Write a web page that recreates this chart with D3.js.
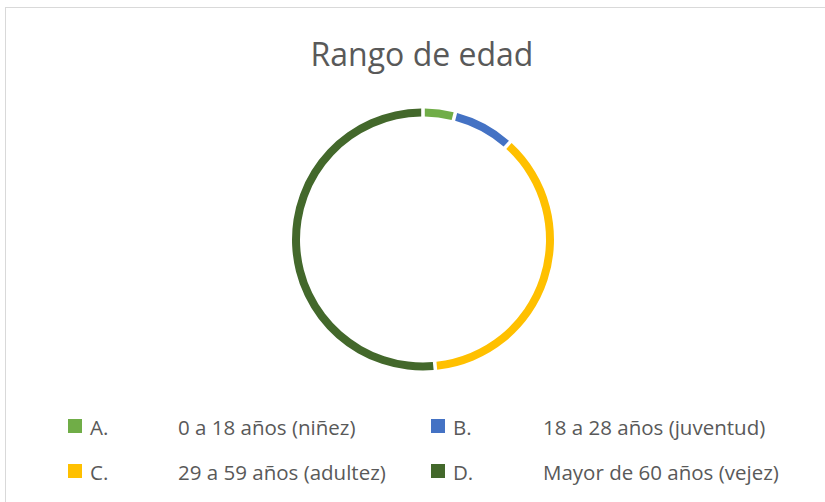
<!DOCTYPE html>
<html>
<head>
<meta charset="utf-8">
<script src="https://cdn.jsdelivr.net/npm/d3@7"></script>
<style>
  body { margin: 0; background: #fff; }
  text { font-family: "Open Sans", "Liberation Sans", sans-serif; }
</style>
</head>
<body>
<div id="canvas"></div>
<script>
// Rango de edad - thin donut ring with a 2x2 legend

const width = 825, height = 502;

const letters = ["A.", "B.", "C.", "D."];
const labels = ["0 a 18 años (niñez)", "18 a 28 años (juventud)", "29 a 59 años (adultez)", "Mayor de 60 años (vejez)"];
const values = [1, 2, 10, 14];
const colors = ["#70ad47", "#4472c4", "#ffc000", "#43682b"];

const svg = d3.select("#canvas")
  .append("svg")
  .attr("width", width)
  .attr("height", height);

// chart area border (only top and left show in the window)
svg.append("rect")
  .attr("x", 5.5).attr("y", 7.5)
  .attr("width", 830).attr("height", 520)
  .attr("fill", "#fff")
  .attr("stroke", "#d9d9d9")
  .attr("stroke-width", 1);

// title
svg.append("text")
  .attr("x", 422).attr("y", 66)
  .attr("text-anchor", "middle")
  .attr("font-size", 32)
  .attr("fill", "#595959")
  .text("Rango de edad");

// ring (white gaps via padAngle so the ring keeps its full thickness)
const cx = 423, cy = 239.5;
const pie = d3.pie().sort(null).padAngle(0.02).value(d => d)(values);
const arc = d3.arc().innerRadius(123).outerRadius(131);

svg.append("g")
  .attr("transform", `translate(${cx},${cy})`)
  .selectAll("path")
  .data(pie)
  .join("path")
  .attr("d", arc)
  .attr("fill", (d, i) => colors[i]);

// legend: two columns, two rows
const colX = [68, 431];
const rowY = [419, 464];
const legend = svg.append("g");
values.forEach((v, i) => {
  const x = colX[i % 2], y = rowY[Math.floor(i / 2)];
  legend.append("rect")
    .attr("x", x).attr("y", y)
    .attr("width", 14).attr("height", 14)
    .attr("fill", colors[i]);
  legend.append("text")
    .attr("x", x + 22).attr("y", y + 16)
    .attr("font-size", 20.5)
    .attr("fill", "#595959")
    .text(letters[i]);
  legend.append("text")
    .attr("x", x + (i % 2 ? 112 : 110)).attr("y", y + 16)
    .attr("font-size", 20.5)
    .attr("fill", "#595959")
    .text(labels[i]);
});
</script>
</body>
</html>
